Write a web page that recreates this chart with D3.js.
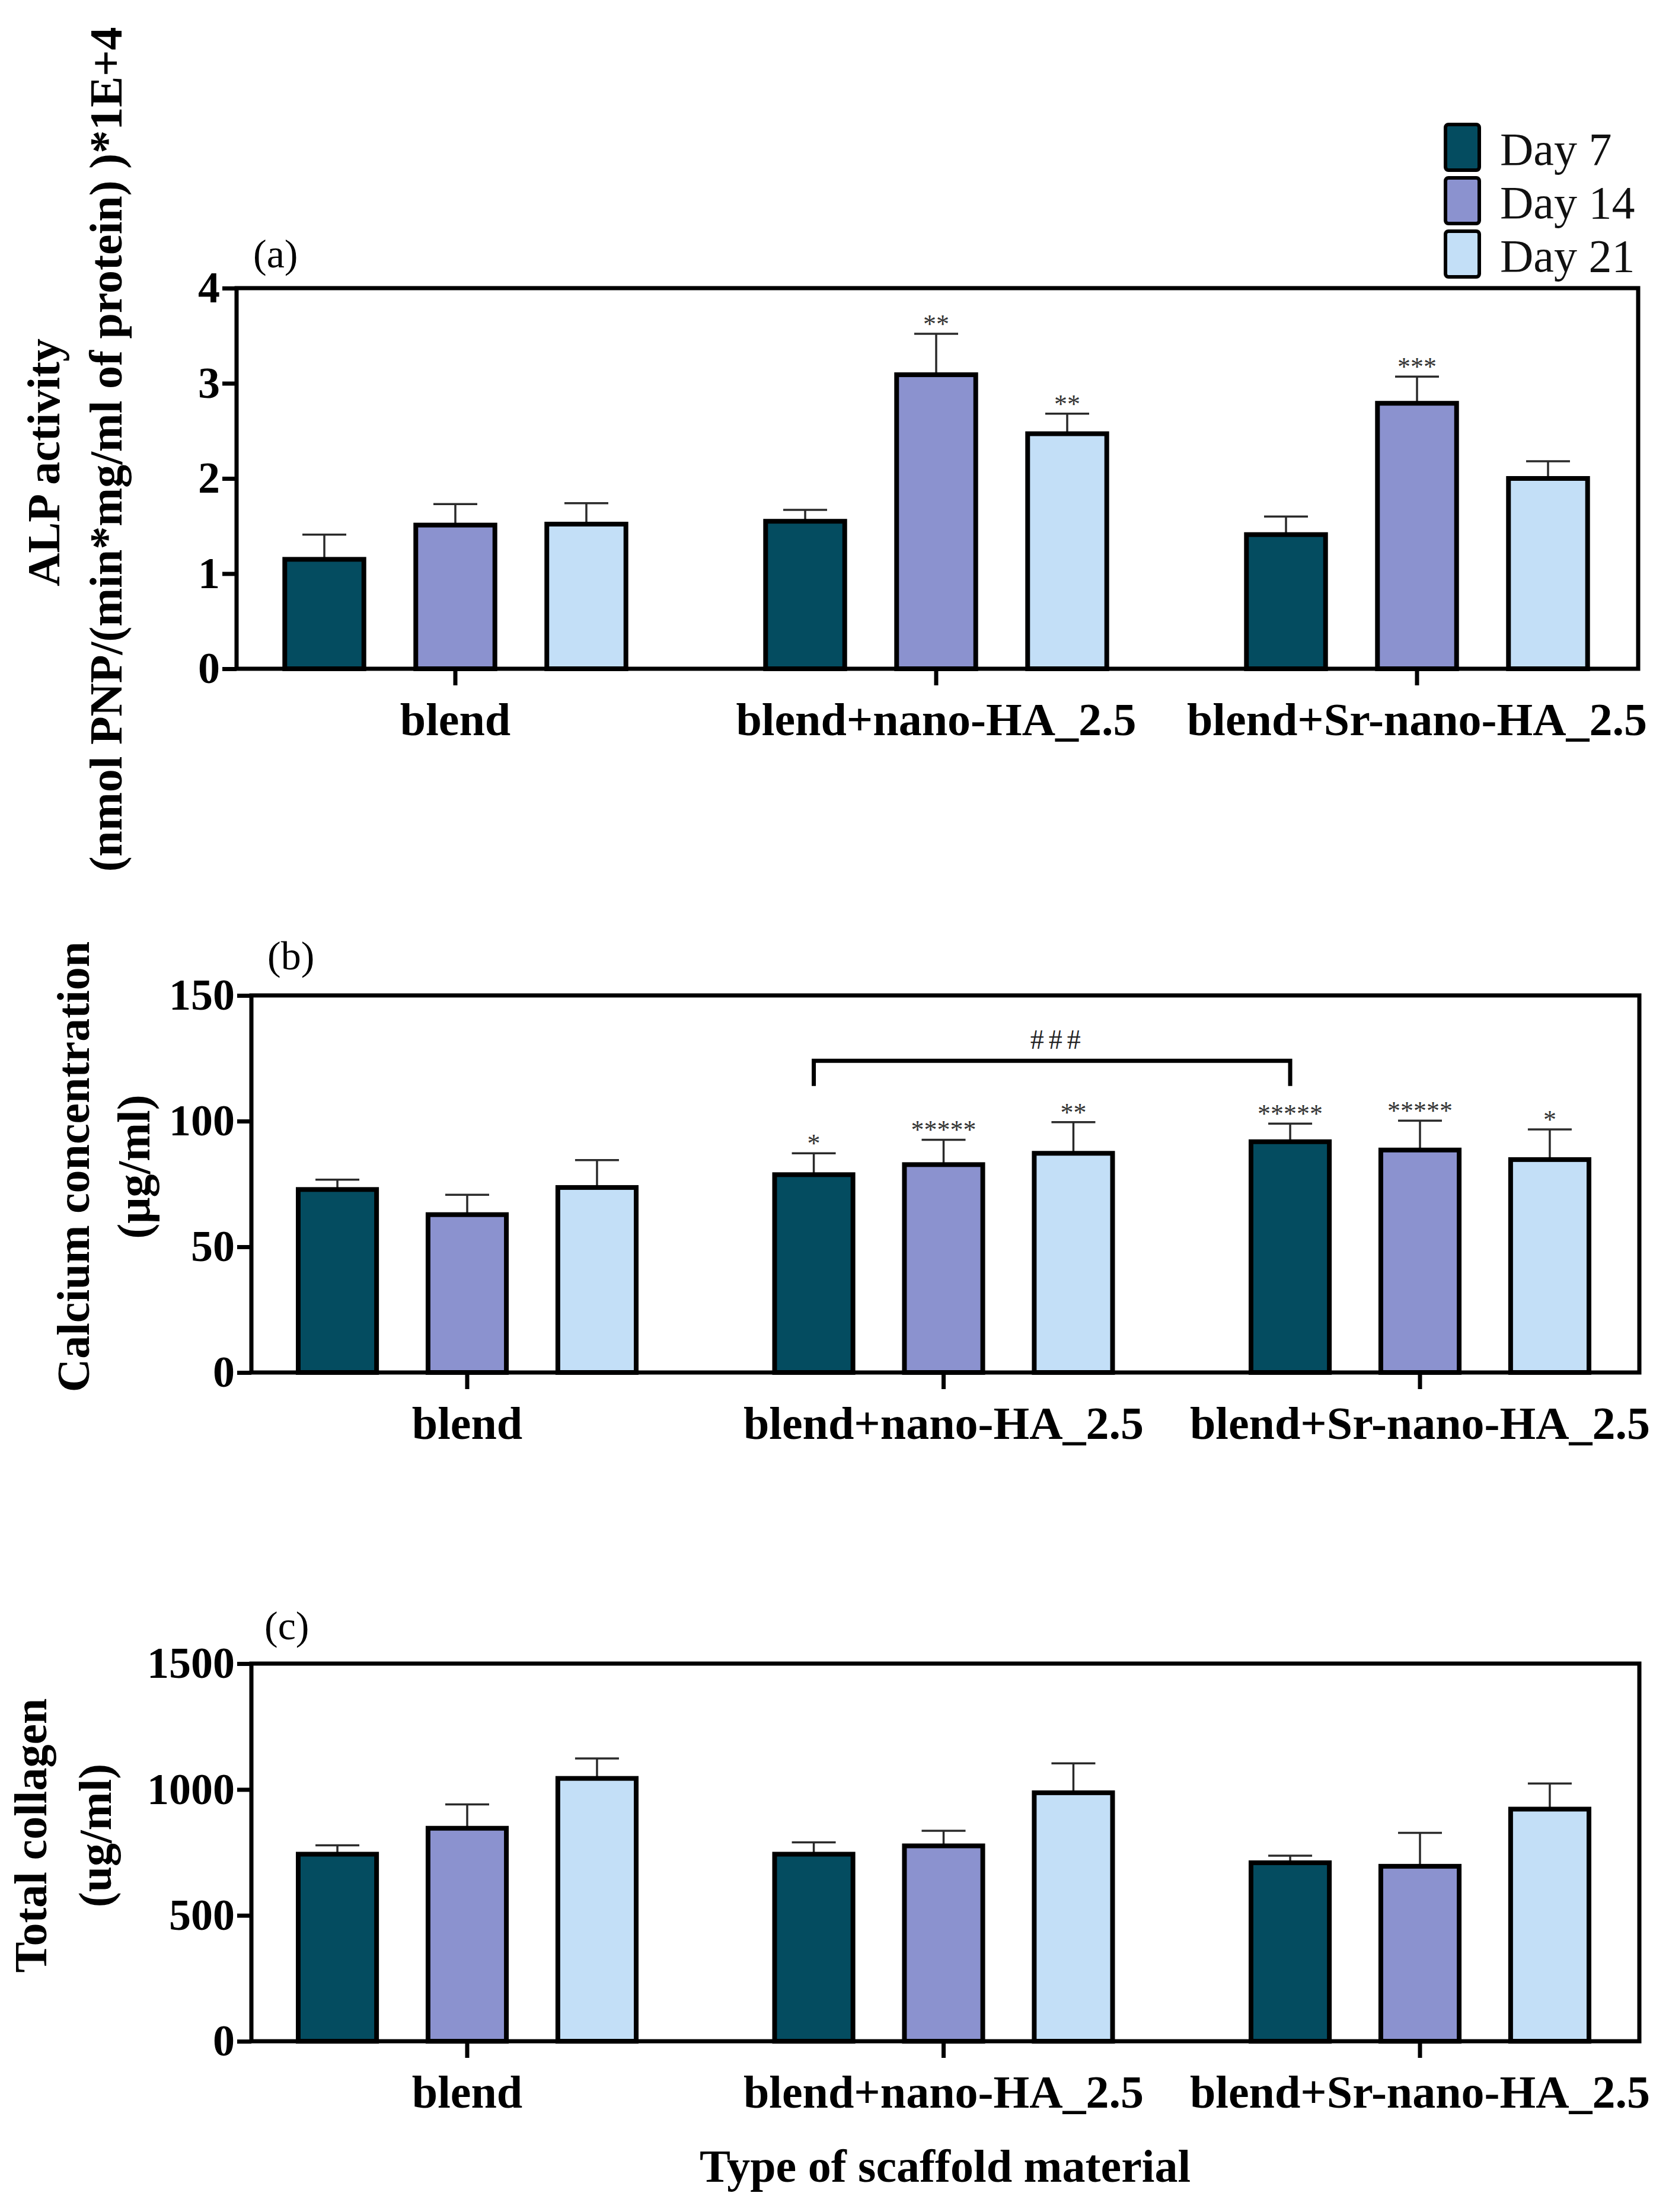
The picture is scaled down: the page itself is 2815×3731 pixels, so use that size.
<!DOCTYPE html>
<html>
<head>
<meta charset="utf-8">
<title>ALP / Calcium / Collagen</title>
<script src="https://d3js.org/d3.v7.min.js"></script>
<style>
  body { margin: 0; background: #fff; }
  text { font-family: "Liberation Serif", "Times New Roman", serif; }
</style>
</head>
<body>
<div id="chart"></div>
<script>
// ---- data ----
const groups = ["blend", "blend+nano-HA_2.5", "blend+Sr-nano-HA_2.5"];
const days = ["Day 7", "Day 14", "Day 21"];

// (a) ALP activity
const alpDay7 = [1.15, 1.55, 1.41];
const alpDay14 = [1.51, 3.09, 2.79];
const alpDay21 = [1.52, 2.47, 2.00];
const alpSd7 = [0.26, 0.12, 0.19];
const alpSd14 = [0.22, 0.43, 0.28];
const alpSd21 = [0.22, 0.21, 0.18];
const alpStars7 = ["", "", ""];
const alpStars14 = ["", "**", "***"];
const alpStars21 = ["", "**", ""];
const alpTicks = [0, 1, 2, 3, 4];

// (b) calcium concentration
const caDay7 = [72.8, 78.7, 91.8];
const caDay14 = [62.8, 82.7, 88.5];
const caDay21 = [73.6, 87.2, 84.7];
const caSd7 = [3.9, 8.5, 7.2];
const caSd14 = [7.9, 9.9, 11.7];
const caSd21 = [10.9, 12.4, 12.0];
const caStars7 = ["", "*", "*****"];
const caStars14 = ["", "*****", "*****"];
const caStars21 = ["", "**", "*"];
const caTicks = [0, 50, 100, 150];
// bracket nano-HA Day 7 vs Sr-nano-HA Day 7
const caBracket = { from: 1, to: 2, level: 124, foot: 114, label: "###" };

// (c) total collagen
const colDay7 = [743, 743, 709];
const colDay14 = [846, 776, 695];
const colDay21 = [1044, 987, 922];
const colSd7 = [35, 47, 28];
const colSd14 = [95, 60, 133];
const colSd21 = [79, 117, 102];
const colTicks = [0, 500, 1000, 1500];

const dayColors = ["#044c60", "#8b92cf", "#c3dff7"];

const W = 2815, H = 3731;
const svg = d3.select("#chart").append("svg")
  .attr("width", W).attr("height", H)
  .attr("viewBox", `0 0 ${W} ${H}`);

// layout of each panel (pixel frame + group centres)
const panels = [
  { tag: "(a)", tagX: 427, tagY: 451,
    left: 399, right: 2763, top: 486, bottom: 1128, c0: 768, c2: 2390,
    ticks: alpTicks, means: [alpDay7, alpDay14, alpDay21], sds: [alpSd7, alpSd14, alpSd21],
    stars: [alpStars7, alpStars14, alpStars21],
    titles: [{ t: "ALP activity", x: 100, y: 780 },
             { t: "(nmol PNP/(min*mg/ml of protein) )*1E+4", x: 205, y: 758 }] },
  { tag: "(b)", tagX: 451, tagY: 1635,
    left: 424, right: 2765, top: 1679, bottom: 2315, c0: 788, c2: 2395,
    ticks: caTicks, means: [caDay7, caDay14, caDay21], sds: [caSd7, caSd14, caSd21],
    stars: [caStars7, caStars14, caStars21], bracket: caBracket,
    titles: [{ t: "Calcium concentration", x: 150, y: 1968 },
             { t: "(μg/ml)", x: 252, y: 1968 }] },
  { tag: "(c)", tagX: 446, tagY: 2765,
    left: 424, right: 2765, top: 2806, bottom: 3443, c0: 788, c2: 2395,
    ticks: colTicks, means: [colDay7, colDay14, colDay21], sds: [colSd7, colSd14, colSd21],
    stars: null,
    titles: [{ t: "Total collagen", x: 78, y: 3096 },
             { t: "(ug/ml)", x: 187, y: 3096 }] }
];

panels.forEach(p => {
  const g = svg.append("g");
  const step = (p.c2 - p.c0) / 2;

  const y = d3.scaleLinear()
    .domain([0, d3.max(p.ticks)])
    .range([p.bottom, p.top]);

  const xg = d3.scaleBand()
    .domain(groups)
    .range([p.c0 - step / 2, p.c2 + step / 2]);

  const xd = d3.scaleBand()
    .domain(days)
    .range([0, xg.bandwidth()])
    .paddingInner(0.36)
    .paddingOuter(0.515);

  // rows of bars
  const rows = [];
  groups.forEach((grp, gi) => {
    days.forEach((day, di) => {
      rows.push({ grp, day, di,
        v: p.means[di][gi], sd: p.sds[di][gi],
        star: p.stars ? p.stars[di][gi] : "" });
    });
  });
  const cx = d => xg(d.grp) + xd(d.day) + xd.bandwidth() / 2;

  // error bars (drawn under the bars)
  const eb = g.append("g").attr("stroke", "#2a2a2a").attr("stroke-width", 3.5);
  eb.selectAll("line.v").data(rows).join("line")
    .attr("x1", cx).attr("x2", cx)
    .attr("y1", d => y(d.v)).attr("y2", d => y(d.v + d.sd));
  eb.selectAll("line.c").data(rows).join("line")
    .attr("x1", d => cx(d) - 37).attr("x2", d => cx(d) + 37)
    .attr("y1", d => y(d.v + d.sd)).attr("y2", d => y(d.v + d.sd));

  // bars
  g.append("g").selectAll("rect").data(rows).join("rect")
    .attr("x", d => xg(d.grp) + xd(d.day) + 4)
    .attr("width", xd.bandwidth() - 8)
    .attr("y", d => y(d.v))
    .attr("height", d => y(0) - y(d.v))
    .attr("fill", d => dayColors[d.di])
    .attr("stroke", "#000")
    .attr("stroke-width", 8);

  // significance stars
  g.append("g").selectAll("text").data(rows.filter(d => d.star)).join("text")
    .attr("x", cx)
    .attr("y", d => y(d.v + d.sd) - 2)
    .attr("text-anchor", "middle")
    .attr("font-size", 44)
    .attr("fill", "#333")
    .text(d => d.star);

  // bracket
  if (p.bracket) {
    const b = p.bracket;
    const x1 = xg(groups[b.from]) + xd(days[0]) + xd.bandwidth() / 2;
    const x2 = xg(groups[b.to]) + xd(days[0]) + xd.bandwidth() / 2;
    g.append("path")
      .attr("d", `M${x1},${y(b.foot)}V${y(b.level)}H${x2}V${y(b.foot)}`)
      .attr("fill", "none").attr("stroke", "#000").attr("stroke-width", 7);
    g.append("text")
      .attr("x", (x1 + x2) / 2 + 10).attr("y", y(b.level) - 20)
      .attr("text-anchor", "middle").attr("font-size", 46)
      .attr("letter-spacing", 8).attr("fill", "#222")
      .text(b.label);
  }

  // frame
  g.append("rect")
    .attr("x", p.left).attr("y", p.top)
    .attr("width", p.right - p.left).attr("height", p.bottom - p.top)
    .attr("fill", "none").attr("stroke", "#000").attr("stroke-width", 7);

  // y axis
  const ya = g.append("g")
    .attr("transform", `translate(${p.left},0)`)
    .call(d3.axisLeft(y).tickValues(p.ticks).tickFormat(d3.format("d"))
      .tickSize(24).tickPadding(4));
  ya.select(".domain").remove();
  ya.selectAll(".tick line").attr("stroke", "#000").attr("stroke-width", 7);
  ya.selectAll(".tick text")
    .attr("font-family", "Liberation Serif")
    .attr("font-weight", "bold").attr("font-size", 74).attr("fill", "#000");

  // x axis
  const xa = g.append("g")
    .attr("transform", `translate(0,${p.bottom})`)
    .call(d3.axisBottom(xg).tickSize(28));
  xa.select(".domain").remove();
  xa.selectAll(".tick line").attr("stroke", "#000").attr("stroke-width", 7);
  xa.selectAll(".tick text")
    .attr("y", 112).attr("dy", 0)
    .attr("font-family", "Liberation Serif")
    .attr("font-weight", "bold").attr("font-size", 78).attr("fill", "#000");

  // panel tag
  g.append("text").attr("x", p.tagX).attr("y", p.tagY)
    .attr("font-size", 68).text(p.tag);

  // y titles
  p.titles.forEach(t => {
    g.append("text")
      .attr("transform", `translate(${t.x},${t.y}) rotate(-90)`)
      .attr("text-anchor", "middle")
      .attr("font-weight", "bold").attr("font-size", 78)
      .text(t.t);
  });
});

// x title
svg.append("text")
  .attr("x", 1594).attr("y", 3680)
  .attr("text-anchor", "middle")
  .attr("font-weight", "bold").attr("font-size", 78)
  .text("Type of scaffold material");

// legend
const lg = svg.append("g").attr("transform", "translate(2438,210)");
const li = lg.selectAll("g").data(days).join("g")
  .attr("transform", (d, i) => `translate(0,${i * 90})`);
li.append("rect")
  .attr("width", 57).attr("height", 77).attr("rx", 5)
  .attr("fill", (d, i) => dayColors[i])
  .attr("stroke", "#000").attr("stroke-width", 6);
li.append("text")
  .attr("x", 92).attr("y", 68)
  .attr("font-size", 78).attr("fill", "#111")
  .text(d => d);
</script>
</body>
</html>
